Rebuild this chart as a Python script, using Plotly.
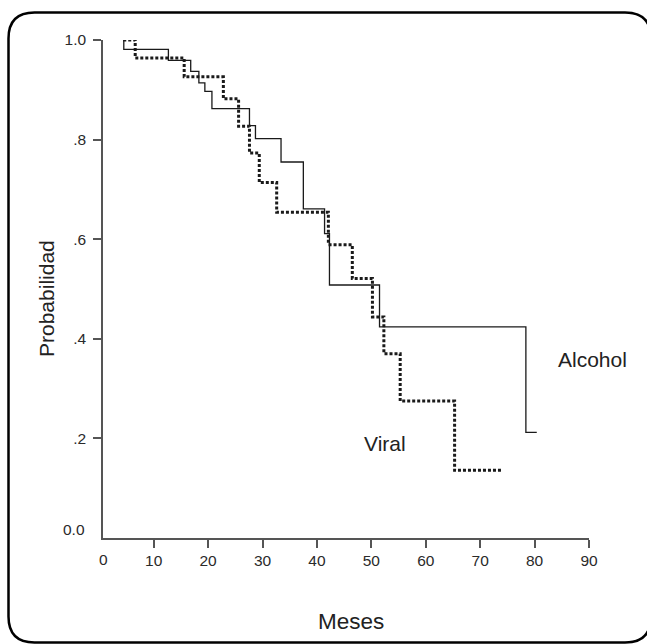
import plotly.graph_objects as go

# ---- data ----
alcohol_time = [4.5, 4.5, 12.7, 16.8, 18.3, 19.4, 20.7, 27.6, 28.7, 33.4, 37.5, 41.4, 42.3, 51.5, 78.4, 80.4]
alcohol_surv = [1.0, 0.981, 0.959, 0.937, 0.914, 0.897, 0.862, 0.828, 0.802, 0.755, 0.661, 0.611, 0.508, 0.424, 0.212, 0.212]

viral_time = [4.4, 6.6, 15.6, 22.8, 25.6, 27.6, 29.4, 32.6, 42.1, 46.5, 50.2, 52.3, 55.3, 65.3, 74.0]
viral_surv = [1.0, 0.964, 0.926, 0.882, 0.827, 0.773, 0.714, 0.654, 0.589, 0.521, 0.444, 0.370, 0.275, 0.136, 0.136]

x_tickvals = [10, 20, 30, 40, 50, 60, 70, 80, 90]
y_tickvals = [0.2, 0.4, 0.6, 0.8, 1.0]
y_ticktext = [".2", ".4", ".6", ".8", "1.0"]

FONT = "Liberation Sans, Arial, sans-serif"
W, H = 647, 644
ML, MR, MT, MB = 103, 58, 40, 106

fig = go.Figure()
fig.add_trace(go.Scatter(
    x=alcohol_time, y=alcohol_surv, mode="lines", name="Alcohol",
    line=dict(color="#1a1a1a", width=1.3, shape="hv"), cliponaxis=False,
    showlegend=False))
fig.add_trace(go.Scatter(
    x=viral_time, y=viral_surv, mode="lines", name="Viral",
    line=dict(color="#1a1a1a", width=3, shape="hv", dash="3px,2px"), cliponaxis=False,
    showlegend=False))

# rounded frame, in pixel -> paper conversion
pw, ph = W - ML - MR, H - MT - MB
def px(x):
    return (x - ML) / pw
def py(y):
    return (H - MB - y) / ph

L, T, R, B, r = 8.5, 12.5, 651, 642.5, 26
path = (f"M {px(L+r)},{py(T)} L {px(R-r)},{py(T)} Q {px(R)},{py(T)} {px(R)},{py(T+r)} "
        f"L {px(R)},{py(B-r)} Q {px(R)},{py(B)} {px(R-r)},{py(B)} "
        f"L {px(L+r)},{py(B)} Q {px(L)},{py(B)} {px(L)},{py(B-r)} "
        f"L {px(L)},{py(T+r)} Q {px(L)},{py(T)} {px(L+r)},{py(T)} Z")
fig.add_shape(type="path", path=path, xref="paper", yref="paper",
              line=dict(color="black", width=2.5), layer="above")

tickfont = dict(family=FONT, size=15.5, color="#2a2a2a")
fig.update_xaxes(range=[0.68, 90], tickvals=x_tickvals, showline=True, linecolor="#555555",
                 linewidth=1.5, ticks="outside", ticklen=8, tickwidth=1.5, tickcolor="#555555",
                 showgrid=False, zeroline=False, tickfont=tickfont)
fig.update_yaxes(range=[0, 1], tickvals=y_tickvals, ticktext=y_ticktext, showline=True,
                 linecolor="#555555", linewidth=1.5, ticks="outside", ticklen=8, tickwidth=1.5,
                 tickcolor="#555555", showgrid=False, zeroline=False, tickfont=tickfont,
                 ticklabelstandoff=4)

txtfont = dict(family=FONT, size=21, color="#222222")
annos = [
    dict(text="0", xref="paper", yref="paper", x=0, y=0, xanchor="center", yanchor="middle",
         yshift=-21, showarrow=False, font=tickfont),
    dict(text="0.0", xref="paper", yref="paper", x=0, y=0, xanchor="right", yanchor="middle",
         xshift=-16, yshift=9, showarrow=False, font=tickfont),
    dict(text="Alcohol", xref="paper", yref="paper", x=px(592), y=py(359), xanchor="center",
         yanchor="middle", showarrow=False, font=txtfont),
    dict(text="Viral", xref="x", yref="y", x=52.5, y=0.19, xanchor="center", yanchor="middle",
         showarrow=False, font=txtfont),
    dict(text="Meses", xref="paper", yref="paper", x=px(351), y=py(621), xanchor="center",
         yanchor="middle", showarrow=False, font=dict(family=FONT, size=22.5, color="#222222")),
    dict(text="Probabilidad", xref="paper", yref="paper", x=px(46), y=py(299), textangle=-90,
         xanchor="center", yanchor="middle", showarrow=False, font=txtfont),
]
fig.update_layout(width=W, height=H, margin=dict(l=ML, r=MR, t=MT, b=MB, autoexpand=False),
                  plot_bgcolor="white", paper_bgcolor="white", annotations=annos,
                  font=dict(family=FONT))

fig.write_html("out.html", config={"displayModeBar": False},
               post_script="document.body.style.margin='0';document.body.style.overflow='hidden';")
